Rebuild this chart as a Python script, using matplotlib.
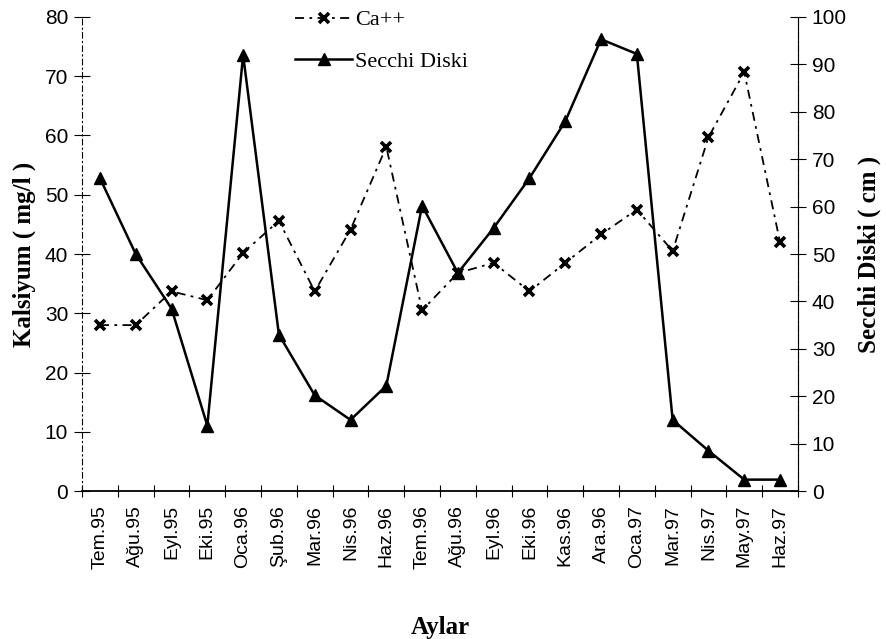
import matplotlib
matplotlib.use("Agg")
import matplotlib.pyplot as plt
import numpy as np

aylar = ["Tem.95", "Ağu.95", "Eyl.95", "Eki.95", "Oca.96", "Şub.96", "Mar.96",
         "Nis.96", "Haz.96", "Tem.96", "Ağu.96", "Eyl.96", "Eki.96", "Kas.96",
         "Ara.96", "Oca.97", "Mar.97", "Nis.97", "May.97", "Haz.97"]
kalsiyum = [28, 28, 33.7, 32.2, 40.2, 45.6, 33.7, 44.1, 58.1, 30.5,
            36.8, 38.5, 33.7, 38.5, 43.3, 47.5, 40.5, 59.7, 70.7, 42]
secchi = [66, 50, 38.5, 13.8, 92, 33, 20.2, 15, 22.2, 60.2,
          46, 55.5, 66, 78, 95.3, 92.2, 15, 8.5, 2.4, 2.4]

serif = "Liberation Serif"
sans = "Liberation Sans"

fig = plt.figure(figsize=(8.86, 6.39), dpi=100)
ax1 = fig.add_axes([0.0926, 0.2316, 0.808, 0.7418])
ax2 = ax1.twinx()

x = np.arange(len(aylar))
l1, = ax1.plot(x, kalsiyum, color="black", lw=1.3, linestyle=(0, (5, 3, 1.5, 3)),
               marker="x", ms=7, mew=2.6, label="Ca++")
l2, = ax2.plot(x, secchi, color="black", lw=1.8, marker="^", ms=9,
               label="Secchi Diski")

ax1.set_xlim(-0.5, len(aylar) - 0.5)
ax1.set_ylim(0, 80)
ax2.set_ylim(0, 100)
ax1.set_yticks(range(0, 81, 10))
ax2.set_yticks(range(0, 101, 10))
ax1.set_xticks(x)
ax1.set_xticklabels(aylar, rotation=90, fontfamily=sans, fontsize=14)
ax1.set_xticks(np.arange(-0.5, len(aylar), 1), minor=True)
ax1.tick_params(axis="x", which="major", length=0, pad=10)
ax1.tick_params(axis="x", which="minor", direction="inout", length=8, width=0.8)
ax1.tick_params(axis="y", direction="inout", length=12, width=0.8, pad=4)
ax2.tick_params(axis="y", direction="inout", length=12, width=0.8, pad=4)
for lab in ax1.get_yticklabels() + ax2.get_yticklabels():
    lab.set_fontfamily(sans)
    lab.set_fontsize(15)

for a in (ax1, ax2):
    a.spines["top"].set_visible(False)
ax1.spines["left"].set_linestyle((0, (5, 3, 1, 3)))
ax1.spines["left"].set_linewidth(0.8)
ax2.spines["right"].set_linestyle((0, (5, 3, 1, 3)))
ax2.spines["right"].set_linewidth(0.8)
ax2.spines["left"].set_visible(False)
ax2.spines["bottom"].set_visible(False)
ax1.spines["bottom"].set_linewidth(1.3)

ax1.set_ylabel("Kalsiyum ( mg/l )", fontfamily=serif, fontweight="bold",
               fontsize=18, labelpad=6)
ax2.set_ylabel("Secchi Diski ( cm )", fontfamily=serif, fontweight="bold",
               fontsize=18, labelpad=8)
ax1.set_xlabel("Aylar", fontfamily=serif, fontweight="bold", fontsize=18,
               labelpad=34)

leg = fig.legend(handles=[l1, l2], loc="upper left", bbox_to_anchor=(0.31, 1.016),
                 frameon=False, prop={"family": serif, "size": 16},
                 handlelength=2.6, handletextpad=0.1, labelspacing=0.95)

fig.savefig("out.png", dpi=100)
